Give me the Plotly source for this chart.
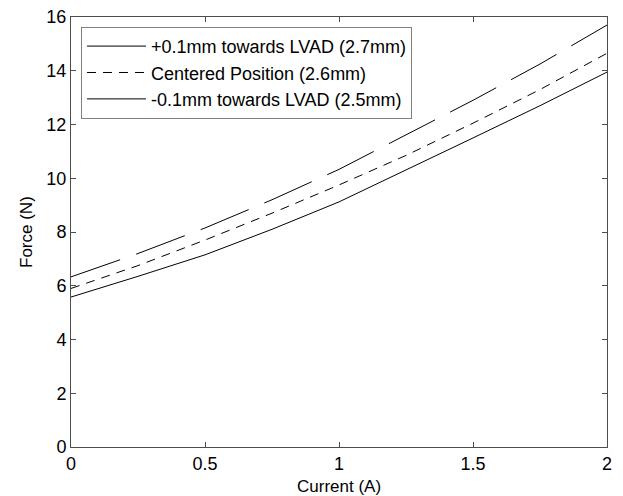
import plotly.graph_objects as go

current = [0, 0.25, 0.5, 0.75, 1.0, 1.25, 1.5, 1.75, 2.0]
force_plus = [6.33, 7.2, 8.15, 9.2, 10.33, 11.6, 12.9, 14.25, 15.7]
force_center = [5.9, 6.75, 7.7, 8.7, 9.75, 10.85, 12.05, 13.3, 14.65]
force_minus = [5.58, 6.35, 7.15, 8.1, 9.12, 10.3, 11.5, 12.7, 13.95]
names = ["+0.1mm towards LVAD (2.7mm)", "Centered Position (2.6mm)", "-0.1mm towards LVAD (2.5mm)"]
x_title = "Current (A)"
y_title = "Force (N)"

fig = go.Figure()
# curves
fig.add_trace(go.Scatter(x=current, y=force_plus, mode="lines", name=names[0], showlegend=False,
                         line=dict(color="black", width=1, dash="52px,17px")))
fig.add_trace(go.Scatter(x=current, y=force_center, mode="lines", name=names[1], showlegend=False,
                         line=dict(color="black", width=1, dash="9px,7px")))
fig.add_trace(go.Scatter(x=current, y=force_minus, mode="lines", name=names[2], showlegend=False,
                         line=dict(color="black", width=1)))
# legend entries (as in the original figure's legend)
legend_dash = ["solid", "9px,7px", "solid"]
for nm, ds in zip(names, legend_dash):
    fig.add_trace(go.Scatter(x=[None], y=[None], mode="lines", name=nm,
                             line=dict(color="black", width=1, dash=ds)))

axis_common = dict(showgrid=False, zeroline=False, showline=True, linecolor="#4d4d4d", linewidth=1,
                   mirror="ticks", ticks="inside", ticklen=5, tickcolor="#4d4d4d",
                   tickfont=dict(size=18, color="black"), automargin=False,
                   ticklabeloverflow="allow")
fig.update_xaxes(range=[0, 2], tickvals=[0, 0.5, 1, 1.5, 2], ticktext=["0", "0.5", "1", "1.5", "2"],
                 **axis_common)
fig.update_yaxes(range=[0, 16], tickvals=list(range(0, 17, 2)), **axis_common)

fig.add_annotation(text=x_title, xref="paper", yref="paper", x=0.5, y=-0.091,
                   xanchor="center", yanchor="middle", showarrow=False,
                   font=dict(size=17, color="black"))
fig.add_annotation(text=y_title, xref="paper", yref="paper", x=-0.084, y=0.5,
                   xanchor="center", yanchor="middle", showarrow=False, textangle=-90,
                   font=dict(size=17, color="black"))

# the page body has an 8px margin, so the figure is sized to fit the 623x496 window
fig.update_layout(
    width=615, height=488,
    margin=dict(l=63, r=16, t=9, b=49),
    plot_bgcolor="white", paper_bgcolor="white",
    font=dict(family="Liberation Sans, Arial, sans-serif", size=17, color="black"),
    legend=dict(x=0.0187, y=0.977, xanchor="left", yanchor="top",
                bgcolor="white", bordercolor="#808080", borderwidth=1,
                font=dict(size=18), tracegroupgap=0, itemwidth=59),
)
fig.write_html("out.html")
